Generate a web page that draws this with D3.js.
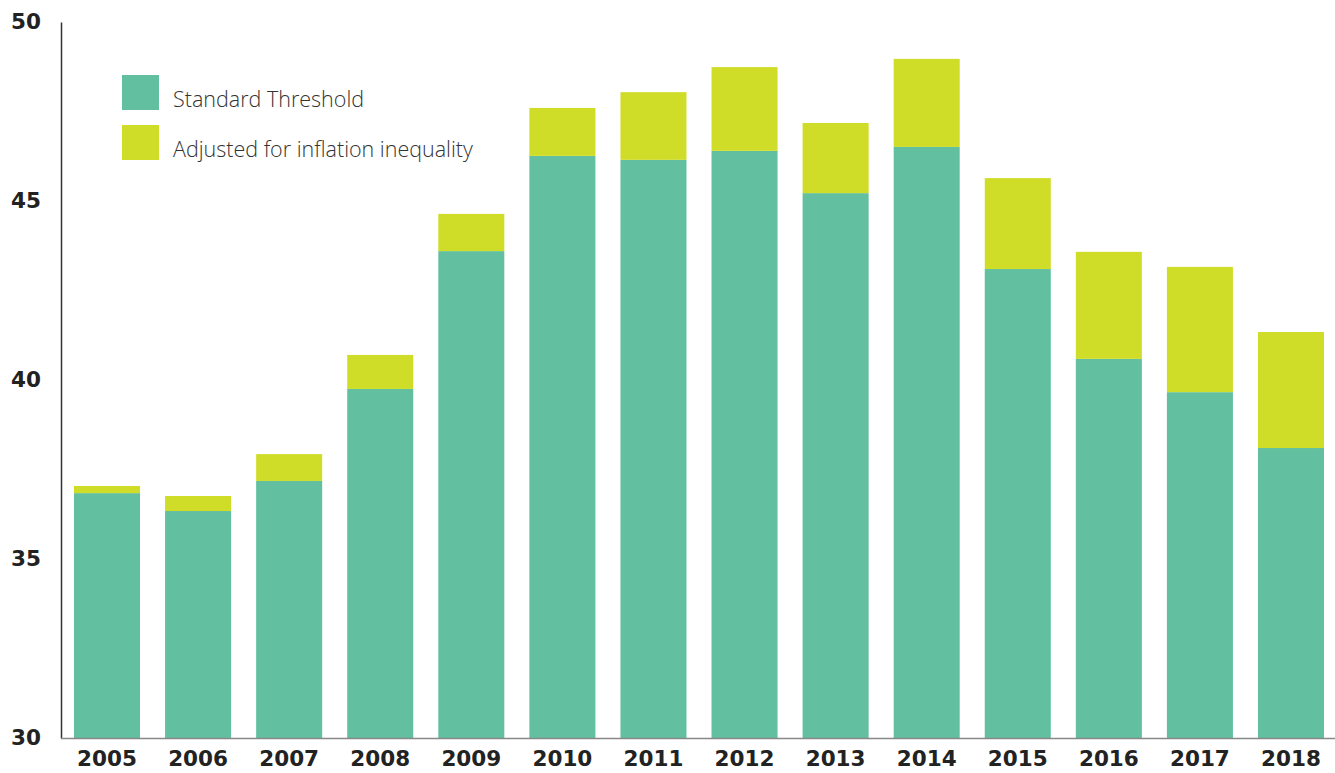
<!DOCTYPE html>
<html>
<head>
<meta charset="utf-8">
<script src="https://cdn.jsdelivr.net/npm/d3@7"></script>
<style>
  html, body { margin: 0; padding: 0; background: #fff; }
  svg { display: block; }
</style>
</head>
<body>
<svg id="chart" width="1335" height="773"></svg>
<script>
const years = ["2005","2006","2007","2008","2009","2010","2011","2012","2013","2014","2015","2016","2017","2018"];
const standardThreshold = [36.84, 36.34, 37.18, 39.75, 43.60, 46.26, 46.15, 46.40, 45.22, 46.51, 43.10, 40.59, 39.66, 38.10];
const adjustedInflation = [37.04, 36.76, 37.93, 40.70, 44.64, 47.60, 48.04, 48.74, 47.18, 48.97, 45.64, 43.58, 43.16, 41.34];
const yTicks = [30, 35, 40, 45, 50];
const seriesNames = ["Standard Threshold", "Adjusted for inflation inequality"];
const seriesColors = ["#62bfa0", "#cfdd28"];

const svg = d3.select("#chart");
const x = d3.scaleBand().domain(years).range([61, 1337]).paddingInner(0.275).paddingOuter(0.1427);
const y = d3.scaleLinear().domain([30, 50]).range([738, 22]);

// bars: standard portion
svg.append("g").selectAll("rect").data(years).join("rect")
  .attr("x", d => x(d))
  .attr("width", x.bandwidth())
  .attr("y", (d, i) => y(standardThreshold[i]))
  .attr("height", (d, i) => y(30) - y(standardThreshold[i]))
  .attr("fill", seriesColors[0]);

// bars: adjusted portion
svg.append("g").selectAll("rect").data(years).join("rect")
  .attr("x", d => x(d))
  .attr("width", x.bandwidth())
  .attr("y", (d, i) => y(adjustedInflation[i]))
  .attr("height", (d, i) => y(standardThreshold[i]) - y(adjustedInflation[i]))
  .attr("fill", seriesColors[1]);

// y axis
const yAxis = svg.append("g").attr("transform", "translate(61,0)")
  .call(d3.axisLeft(y).tickValues(yTicks).tickSize(0).tickPadding(20));
yAxis.select(".domain").attr("stroke", "#333").attr("stroke-width", 1.5);
yAxis.selectAll("text")
  .attr("font-family", "DejaVu Sans, sans-serif")
  .attr("font-weight", "bold")
  .attr("font-size", 21.5)
  .attr("fill", "#222");

// x axis
const xAxis = svg.append("g").attr("transform", "translate(0,738.5)")
  .call(d3.axisBottom(x).tickSize(0).tickPadding(12));
xAxis.select(".domain").attr("stroke", "#888").attr("stroke-width", 1.5).attr("d", "M61,0H1335");
xAxis.selectAll("text")
  .attr("font-family", "DejaVu Sans, sans-serif")
  .attr("font-weight", "bold")
  .attr("font-size", 21.5)
  .attr("fill", "#222");

// legend
const legend = svg.append("g").attr("transform", "translate(122,75)");
const li = legend.selectAll("g").data(seriesNames).join("g")
  .attr("transform", (d, i) => `translate(0,${i * 50})`);
li.append("rect").attr("width", 37).attr("height", 35).attr("fill", (d, i) => seriesColors[i]);
li.append("text").attr("x", 51).attr("y", 32)
  .attr("font-family", "Open Sans, sans-serif")
  .attr("font-weight", 300)
  .attr("font-size", 21.5)
  .attr("fill", "#333")
  .text(d => d);
</script>
</body>
</html>
